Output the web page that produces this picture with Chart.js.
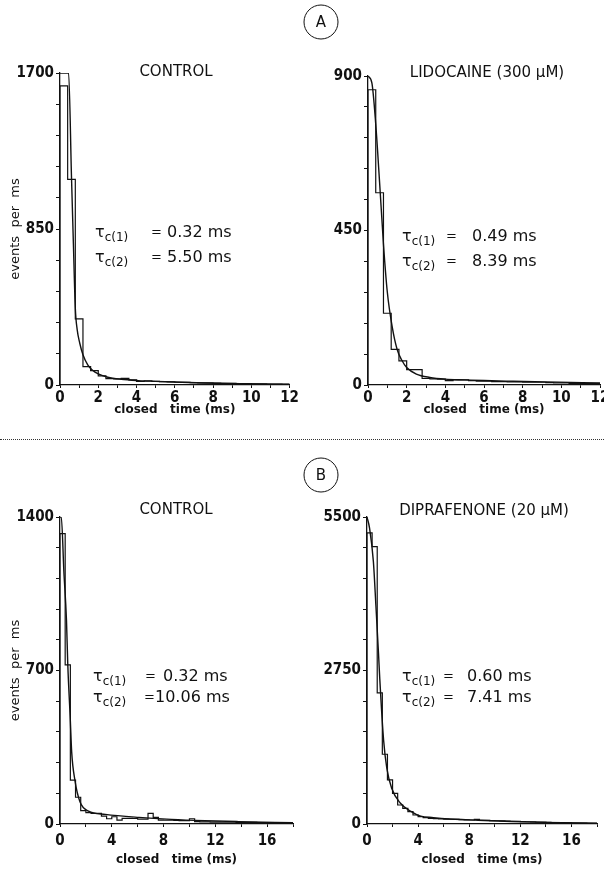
<!DOCTYPE html>
<html>
<head>
<meta charset="utf-8">
<script src="https://cdn.jsdelivr.net/npm/chart.js@4.4.1/dist/chart.umd.min.js"></script>
<style>
  html, body { margin: 0; padding: 0; background: #fff; }
  body { width: 604px; height: 869px; position: relative; overflow: hidden; font-family: 'DejaVu Sans', sans-serif; color: #111; }
  canvas { position: absolute; }
  .lbl { position: absolute; transform: translate(-50%, -50%); white-space: nowrap; font-size: 15px; }
  .circ { position: absolute; width: 33px; height: 33px; border: 1.3px solid #111; border-radius: 50%;
          transform: translate(-50%, -50%); text-align: center; line-height: 33px; font-size: 15px; }
  .tau { position: absolute; height: 20px; font-size: 16px; white-space: nowrap; }
  .tau span { position: absolute; top: 0; }
  .tau span.eq { font-size: 13px; top: 2px; }
  .tau sub { font-size: 12px; vertical-align: -4px; }
  .sep { position: absolute; left: 0; top: 439px; width: 604px; border-top: 1.5px dotted #333; }
</style>
</head>
<body>

<canvas id="aLeft" width="300" height="420" style="left:0;top:0"></canvas>
<canvas id="aRight" width="320" height="420" style="left:300px;top:0"></canvas>
<canvas id="bLeft" width="300" height="429" style="left:0;top:440px"></canvas>
<canvas id="bRight" width="320" height="429" style="left:300px;top:440px"></canvas>

<div class="circ" style="left:321px;top:22px">A</div>
<div class="circ" style="left:321px;top:475px">B</div>
<div class="sep"></div>

<div class="lbl" style="left:176px;top:71px">CONTROL</div>
<div class="lbl" style="left:487px;top:72px">LIDOCAINE (300 µM)</div>
<div class="lbl" style="left:176px;top:509px">CONTROL</div>
<div class="lbl" style="left:484px;top:510px">DIPRAFENONE (20 µM)</div>

<div class="tau" style="left:95px;top:222px"><span style="left:0">τ<sub>c(1)</sub></span><span class="eq" style="left:56px">=</span><span style="left:72px">0.32 ms</span></div>
<div class="tau" style="left:95px;top:247px"><span style="left:0">τ<sub>c(2)</sub></span><span class="eq" style="left:56px">=</span><span style="left:72px">5.50 ms</span></div>
<div class="tau" style="left:402px;top:226px"><span style="left:0">τ<sub>c(1)</sub></span><span class="eq" style="left:44px">=</span><span style="left:70px">0.49 ms</span></div>
<div class="tau" style="left:402px;top:251px"><span style="left:0">τ<sub>c(2)</sub></span><span class="eq" style="left:44px">=</span><span style="left:70px">8.39 ms</span></div>
<div class="tau" style="left:93px;top:666px"><span style="left:0">τ<sub>c(1)</sub></span><span class="eq" style="left:52px">=</span><span style="left:70px">0.32 ms</span></div>
<div class="tau" style="left:93px;top:687px"><span style="left:0">τ<sub>c(2)</sub></span><span class="eq" style="left:51px">=</span><span style="left:62px">10.06 ms</span></div>
<div class="tau" style="left:402px;top:666px"><span style="left:0">τ<sub>c(1)</sub></span><span class="eq" style="left:41px">=</span><span style="left:65px">0.60 ms</span></div>
<div class="tau" style="left:402px;top:687px"><span style="left:0">τ<sub>c(2)</sub></span><span class="eq" style="left:41px">=</span><span style="left:65px">7.41 ms</span></div>

<script>
// bin width of the closed-time histograms (ms)
const binMs = 0.4;

// A: control (0-12 ms)
const aControlCounts = [1630, 1120, 360, 100, 78, 50, 35, 33, 36, 28, 20, 22, 20, 18, 17, 15, 14, 13, 12, 12, 10, 9, 9, 8, 7, 6, 6, 5, 5, 4];
const aControlFitT = [0, 0.45, 0.6, 0.7, 0.8, 0.9, 1.03, 1.2, 1.45, 1.7, 2.0, 2.5, 3.2, 4.1, 5, 6, 7.5, 9.4, 12];
const aControlFitY = [1700, 1700, 1135, 770, 420, 300, 229, 165, 110, 80, 60, 42, 31, 24, 20, 16, 11, 7, 4];

// A: lidocaine 300 uM (0-12 ms)
const aLidoCounts = [860, 560, 209, 104, 70, 45, 45, 19, 18, 17, 13, 15, 15, 13, 11, 11, 10, 10, 9, 9, 8, 8, 8, 7, 6, 6, 5, 5, 4, 4];
const aLidoFitT = [0, 0.2, 0.4, 0.6, 0.8, 1.0, 1.25, 1.5, 1.75, 2.0, 2.5, 3.2, 4.0, 5, 6, 7.5, 9.2, 12];
const aLidoFitY = [900, 880, 760, 590, 410, 270, 170, 105, 72, 51, 32, 22, 17, 15, 13, 11, 9, 6];

// B: control (0-18 ms)
const bControlCounts = [1324, 726, 200, 122, 61, 52, 48, 48, 36, 24, 33, 18, 26, 26, 25, 22, 22, 48, 30, 18, 17, 17, 16, 15, 15, 24, 11, 10, 10, 9, 9, 8, 8, 8, 7, 7, 7, 7, 6, 6, 6, 5, 5, 5, 5];
const bControlFitT = [0, 0.1, 0.3, 0.5, 0.6, 0.8, 0.9, 1.15, 1.55, 2.2, 3.5, 6.1, 8.6, 11.2, 13.8, 18];
const bControlFitY = [1400, 1400, 1150, 930, 730, 470, 330, 200, 100, 59, 44, 30, 21, 15, 11, 6];

// B: diprafenone 20 uM (0-18 ms)
const bDipraCounts = [5215, 4970, 2350, 1250, 790, 550, 340, 281, 221, 161, 131, 113, 101, 95, 92, 88, 85, 82, 78, 75, 72, 84, 66, 64, 60, 58, 55, 52, 48, 46, 43, 40, 37, 35, 32, 30, 27, 25, 22, 20, 18, 16, 14, 13, 12];
const bDipraFitT = [0, 0.2, 0.5, 0.7, 0.9, 1.0, 1.3, 1.55, 1.93, 2.6, 3.4, 4.2, 5.2, 6.1, 8.7, 11.3, 13.9, 18];
const bDipraFitY = [5500, 5300, 4700, 3900, 3060, 2600, 1500, 1000, 640, 376, 230, 140, 115, 95, 68, 46, 30, 13];

// axis ranges
const aXMax = 12, bXMax = 18;
const aControlYMax = 1700, aLidoYMax = 900, bControlYMax = 1400, bDipraYMax = 5500;

const tickFont = { family: "'DejaVu Sans Condensed', 'DejaVu Sans'", size: 15, weight: 'bold' };
const ink = '#111';

// histogram outline: one point per bin start, held until the next bin
function histPoints(counts, xMax) {
  const pts = [{ x: 0, y: 0 }];
  counts.forEach((c, i) => pts.push({ x: i * binMs, y: c }));
  pts.push({ x: xMax, y: counts[counts.length - 1] });
  return pts;
}

function fitPoints(ts, ys) {
  return ts.map((t, i) => ({ x: t, y: ys[i] }));
}

function makePanel(id, p) {
  new Chart(document.getElementById(id), {
    type: 'line',
    data: {
      datasets: [
        { data: histPoints(p.counts, p.xMax), stepped: 'before', borderColor: ink, borderWidth: 1.2, pointRadius: 0, fill: false },
        { data: fitPoints(p.fitT, p.fitY), borderColor: ink, borderWidth: 1.4, pointRadius: 0, cubicInterpolationMode: 'monotone', fill: false }
      ]
    },
    options: {
      responsive: false,
      animation: false,
      events: [],
      layout: { padding: p.pad },
      plugins: { legend: { display: false }, tooltip: { enabled: false } },
      scales: {
        x: {
          type: 'linear', min: 0, max: p.xMax,
          afterFit: s => { s.height = p.xAxisH; },
          border: { color: ink, width: 1.3 },
          grid: { drawOnChartArea: false, tickLength: 3, color: ink },
          ticks: {
            stepSize: p.xStep, autoSkip: false, maxRotation: 0, padding: p.xTickPad,
            color: ink, font: tickFont,
            callback: v => (v % p.xLabelEvery === 0 && v < p.xMax) || (v === p.xMax && p.labelEnd) ? v : ''
          },
          title: {
            display: true, text: 'closed   time (ms)', color: ink,
            font: { family: "'DejaVu Sans'", size: 12, weight: 'bold' },
            padding: { top: 0, bottom: p.xTitlePad }
          }
        },
        y: {
          min: 0, max: p.yMax,
          afterFit: s => { s.width = p.yAxisW; },
          border: { color: ink, width: 1.3 },
          grid: { drawOnChartArea: false, tickLength: 4, color: ink },
          ticks: {
            stepSize: p.yMax / 10, autoSkip: false, padding: 2, color: ink, font: tickFont,
            callback: v => Math.abs(v / (p.yMax / 2) - Math.round(v / (p.yMax / 2))) < 1e-6 ? v : ''
          },
          title: {
            display: p.yTitle, text: 'events  per  ms', color: ink,
            font: { family: "'DejaVu Sans'", size: 13 },
            padding: { top: 8, bottom: 0 }
          }
        }
      }
    }
  });
}

makePanel('aLeft', {
  counts: aControlCounts, fitT: aControlFitT, fitY: aControlFitY, xMax: aXMax, yMax: aControlYMax,
  pad: { left: 0, top: 73, right: 8, bottom: 0 }, yAxisW: 60, xAxisH: 35,
  xStep: 1, xLabelEvery: 2, labelEnd: true, xTickPad: 1, xTitlePad: 3, yTitle: true
});
makePanel('aRight', {
  counts: aLidoCounts, fitT: aLidoFitT, fitY: aLidoFitY, xMax: aXMax, yMax: aLidoYMax,
  pad: { left: 0, top: 76, right: 20, bottom: 0 }, yAxisW: 68, xAxisH: 35,
  xStep: 1, xLabelEvery: 2, labelEnd: true, xTickPad: 1, xTitlePad: 3, yTitle: false
});
makePanel('bLeft', {
  counts: bControlCounts, fitT: bControlFitT, fitY: bControlFitY, xMax: bXMax, yMax: bControlYMax,
  pad: { left: 0, top: 77, right: 7, bottom: 0 }, yAxisW: 60, xAxisH: 45,
  xStep: 2, xLabelEvery: 4, labelEnd: false, xTickPad: 5, xTitlePad: 2, yTitle: true
});
makePanel('bRight', {
  counts: bDipraCounts, fitT: bDipraFitT, fitY: bDipraFitY, xMax: bXMax, yMax: bDipraYMax,
  pad: { left: 0, top: 77, right: 23, bottom: 0 }, yAxisW: 67, xAxisH: 45,
  xStep: 2, xLabelEvery: 4, labelEnd: false, xTickPad: 5, xTitlePad: 2, yTitle: false
});
</script>
</body>
</html>
